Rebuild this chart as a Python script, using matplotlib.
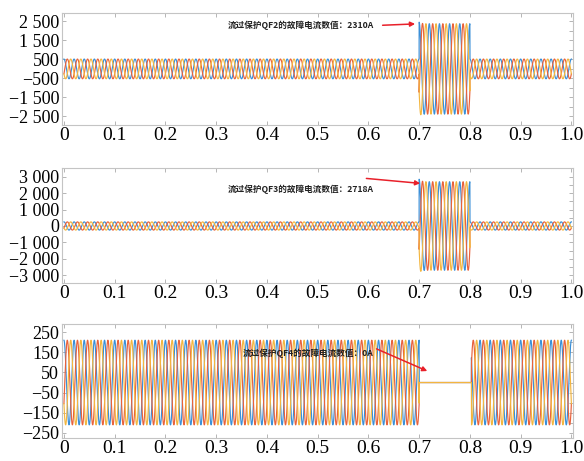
import numpy as np
import matplotlib.pyplot as plt
from matplotlib.ticker import FixedLocator, FuncFormatter

# three-phase fault currents seen by protections QF2, QF3, QF4
freq = 50.0
fault_start = 0.70
fault_end = 0.80
phase_shift = [0.0, -120.0, 120.0]          # phase A, B, C in degrees
phase_colors = ['#3a8fd8', '#e8623c', '#f3b640']

normal_amp = [520.0, 250.0, 210.0]           # pre/post fault peak current (A)
fault_amp = [2380.0, 2700.0, 0.0]            # peak current during the fault (A)
first_peak = [2460.0, 2850.0, 0.0]           # first fault peak (DC offset)
restore_time = [0.80, 0.80, 0.803]           # when the normal current returns

labels = ['流过保护QF2的故障电流数值：2310A',
          '流过保护QF3的故障电流数值：2718A',
          '流过保护QF4的故障电流数值：0A']
label_pos = [(0.322, 2300), (0.322, 2250), (0.352, 147)]
arrow_tail = [(0.628, 2300), (0.596, 2900), (0.616, 167)]
arrow_head = [(0.692, 2370), (0.702, 2600), (0.716, 57)]

yticks = [[-2500, -1500, -500, 500, 1500, 2500],
          [-3000, -2000, -1000, 0, 1000, 2000, 3000],
          [-250, -150, -50, 50, 150, 250]]
yminor = [np.arange(-2500, 2501, 500), np.arange(-3000, 3001, 500), np.arange(-250, 251, 50)]
ylims = [(-2950, 2950), (-3480, 3520), (-275, 290)]
xticks = [0, 0.1, 0.2, 0.3, 0.4, 0.5, 0.6, 0.7, 0.8, 0.9, 1.0]
xticklabels = ['0', '0.1', '0.2', '0.3', '0.4', '0.5', '0.6', '0.7', '0.8', '0.9', '1.0']

t = np.linspace(0, 1.0, 20001)


def fmt_num(v, pos):
    v = int(round(v))
    s = f'{abs(v):,}'.replace(',', ' ')
    return ('\u2212' + s) if v < 0 else s


fig = plt.figure(figsize=(5.84, 4.61), dpi=100)
rects = [[0.106, 0.729, 0.875, 0.243],
         [0.106, 0.386, 0.875, 0.249],
         [0.106, 0.050, 0.875, 0.247]]

for i in range(3):
    ax = fig.add_axes(rects[i])
    in_fault = (t >= fault_start) & (t < restore_time[i])
    tau = 0.004
    for k in range(3):
        w = 2 * np.pi * freq * t + np.deg2rad(phase_shift[k] + 90)
        y = normal_amp[i] * np.sin(w)
        boost = fault_amp[i] + (first_peak[i] - fault_amp[i]) * np.exp(-(t - fault_start) / tau)
        yf = boost * np.sin(w)
        if fault_amp[i] == 0:
            yf = np.zeros_like(t)
        y = np.where(in_fault, yf, y)
        ax.plot(t, y, color=phase_colors[k], lw=0.85)
    ax.set_xlim(-0.004, 1.003)
    ax.set_ylim(*ylims[i])
    ax.xaxis.set_major_locator(FixedLocator(xticks))
    ax.set_xticklabels(xticklabels)
    ax.yaxis.set_major_locator(FixedLocator(yticks[i]))
    ax.yaxis.set_minor_locator(FixedLocator(yminor[i]))
    ax.yaxis.set_major_formatter(FuncFormatter(fmt_num))
    ax.tick_params(axis='both', which='both', direction='in', top=True, right=True,
                   color='#b5b5b5', length=3, width=0.7)
    ax.tick_params(axis='y', which='minor', left=False)
    ax.tick_params(axis='x', labelsize=14, pad=1.5)
    ax.tick_params(axis='y', labelsize=13, pad=2)
    for lab in ax.get_xticklabels() + ax.get_yticklabels():
        lab.set_family('Liberation Serif')
    for sp in ax.spines.values():
        sp.set_color('#c4c4c4')
        sp.set_linewidth(0.8)

    ax.text(label_pos[i][0], label_pos[i][1], labels[i], fontsize=6.2, fontweight='bold',
            family=['Noto Sans CJK SC', 'DejaVu Sans'], va='center', ha='left', color='#222222')
    ax.annotate('', xy=arrow_head[i], xytext=arrow_tail[i],
                arrowprops=dict(arrowstyle='-|>', color='#e8202a', lw=1.1,
                                mutation_scale=7, shrinkA=0, shrinkB=0))

fig.savefig('out.png', dpi=100)
